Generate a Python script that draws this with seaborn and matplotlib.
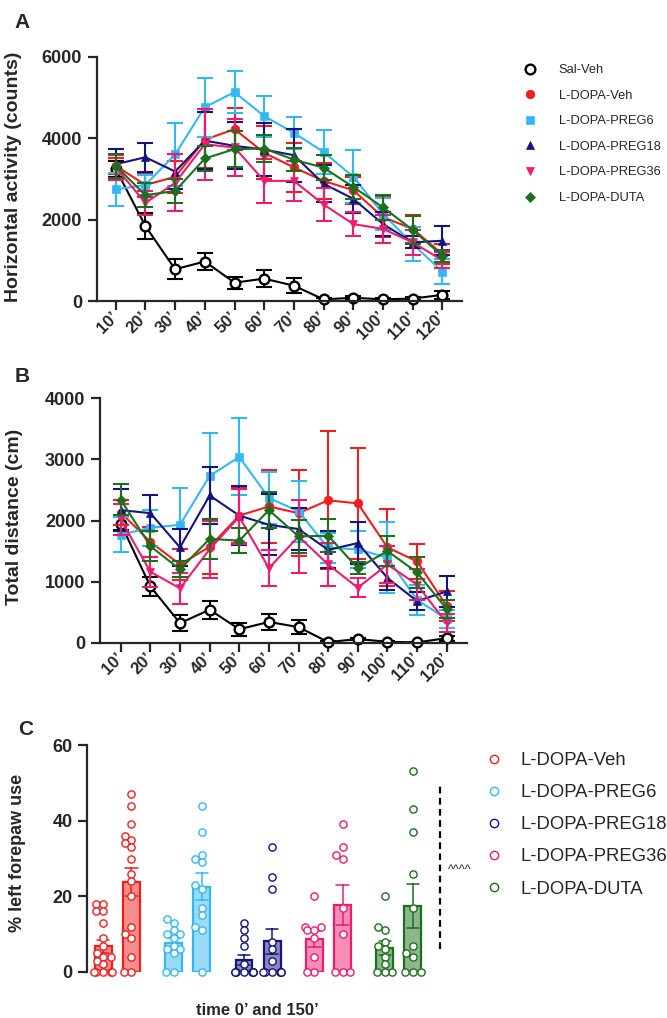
import numpy as np
import pandas as pd
import seaborn as sns
import matplotlib.pyplot as plt
import matplotlib.colors as mcolors
from matplotlib.lines import Line2D

# ---- shared ----
times = [10, 20, 30, 40, 50, 60, 70, 80, 90, 100, 110, 120]
time_labels = [f"{t}\u2019" for t in times]

groups = ["Sal-Veh", "L-DOPA-Veh", "L-DOPA-PREG6", "L-DOPA-PREG18",
          "L-DOPA-PREG36", "L-DOPA-DUTA"]
colors = ["black", "#f01e1e", "#34b8f3", "#14147e", "#ec1c6e", "#1d6f1d"]
markers = ["o", "o", "s", "^", "v", "D"]

# ---- panel A: horizontal activity (mean, sem) ----
sal_a = [3250, 1840, 780, 970, 450, 550, 375, 40, 80, 40, 60, 150]
sal_a_err = [200, 310, 250, 220, 145, 210, 190, 30, 40, 30, 40, 100]
veh_a = [3320, 2850, 3050, 3960, 4220, 3640, 3280, 2950, 2720, 2060, 1770, 1150]
veh_a_err = [200, 300, 400, 690, 520, 650, 600, 450, 330, 500, 350, 250]
preg6_a = [2740, 2850, 3600, 4760, 5130, 4540, 4130, 3660, 3050, 2140, 1400, 720]
preg6_a_err = [400, 250, 770, 720, 520, 500, 400, 550, 650, 400, 420, 300]
preg18_a = [3360, 3530, 3180, 3940, 3810, 3720, 3580, 2880, 2510, 1890, 1440, 1480]
preg18_a_err = [380, 350, 430, 700, 580, 650, 650, 450, 350, 300, 150, 350]
preg36_a = [3280, 2410, 2900, 3850, 3770, 2950, 2950, 2370, 1890, 1770, 1440, 1000]
preg36_a_err = [300, 300, 700, 870, 700, 540, 500, 400, 300, 350, 300, 200]
duta_a = [3320, 2600, 2700, 3500, 3730, 3745, 3470, 3275, 2800, 2300, 1745, 1110]
duta_a_err = [300, 300, 300, 300, 450, 330, 280, 300, 300, 300, 350, 150]

# ---- panel B: total distance (mean, sem) ----
sal_b = [1950, 920, 320, 540, 220, 340, 255, 10, 60, 15, 5, 75]
sal_b_err = [100, 150, 130, 150, 110, 130, 120, 10, 20, 10, 10, 40]
veh_b = [2130, 1650, 1280, 1570, 2080, 2230, 2120, 2330, 2280, 1560, 1330, 600]
veh_b_err = [200, 250, 250, 450, 450, 600, 700, 1130, 910, 630, 290, 250]
preg6_b = [1770, 1880, 1930, 2730, 3040, 2370, 2150, 1550, 1530, 1390, 700, 390]
preg6_b_err = [280, 300, 600, 700, 630, 430, 500, 250, 300, 580, 250, 150]
preg18_b = [2170, 2120, 1560, 2410, 2080, 1930, 1860, 1520, 1630, 1060, 680, 840]
preg18_b_err = [350, 290, 300, 460, 480, 500, 350, 300, 350, 200, 150, 250]
preg36_b = [2020, 1160, 890, 1530, 2060, 1220, 1740, 1280, 900, 1280, 950, 320]
preg36_b_err = [250, 250, 250, 470, 450, 300, 600, 350, 160, 300, 250, 150]
duta_b = [2340, 1580, 1200, 1700, 1670, 2170, 1740, 1750, 1220, 1500, 1150, 550]
duta_b_err = [250, 250, 130, 330, 200, 300, 270, 270, 100, 250, 250, 150]

# ---- panel C: % left forepaw use, individual animals ----
c_groups = groups[1:]
c_colors = colors[1:]
veh_0 = [18, 18, 16, 16, 13, 9, 7, 5, 4, 4, 3, 2, 0, 0, 0, 0, 0]
veh_150 = [47, 44, 39, 36, 35, 34, 33, 30, 26, 24, 20, 12, 10, 9, 4, 0, 0]
preg6_0 = [14, 13, 11, 10, 10, 9, 7, 6, 6, 5, 0, 0]
preg6_150 = [44, 37, 31, 30, 29, 23, 22, 17, 15, 12, 11, 0]
preg18_0 = [13, 11, 9, 7, 2, 0, 0, 0, 0, 0, 0, 0, 0]
preg18_150 = [33, 25, 22, 8, 6, 3, 0, 0, 0, 0, 0, 0]
preg36_0 = [20, 12, 12, 11, 11, 9, 4, 0, 0]
preg36_150 = [39, 33, 31, 30, 17, 10, 0, 0, 0]
duta_0 = [20, 12, 11, 8, 7, 6, 4, 2, 0, 0, 0]
duta_150 = [53, 43, 37, 26, 17, 7, 5, 4, 0, 0, 0]

sns.set_style("ticks")
plt.rcParams["font.family"] = ["Liberation Sans", "DejaVu Sans"]
plt.rcParams.update({
    "axes.linewidth": 1.6,
    "xtick.major.width": 1.6, "ytick.major.width": 1.6,
    "xtick.major.size": 6.5, "ytick.major.size": 6.5,
    "xtick.major.pad": 3, "ytick.major.pad": 4,
})

W, H = 667, 1018
fig = plt.figure(figsize=(W / 100, H / 100), dpi=100)


def ax_px(left, right, top, bottom):
    return fig.add_axes([left / W, 1 - bottom / H, (right - left) / W, (bottom - top) / H])


def line_panel(ax, means, errs, ymax, yticks, ylabel, xlim):
    for g, c, m, y, e in zip(groups, colors, markers, means, errs):
        hollow = g == "Sal-Veh"
        ax.errorbar(times, y, yerr=e, fmt="none", ecolor=c, elinewidth=1.5,
                    capsize=6, capthick=1.5)
        sns.lineplot(x=times, y=y, ax=ax, color=c, marker=m, errorbar=None,
                     linewidth=1.5,
                     markersize=7 if hollow else (5 if m == "D" else 6.2),
                     markerfacecolor="white" if hollow else c,
                     markeredgecolor=c,
                     markeredgewidth=1.7 if hollow else 0.5, clip_on=False)
    ax.set_xlim(*xlim)
    ax.set_ylim(0, ymax)
    ax.set_yticks(yticks)
    ax.set_xticks(times, time_labels)
    for lab in ax.get_xticklabels():
        lab.set_rotation(45)
        lab.set_ha("right")
        lab.set_va("center")
        lab.set_rotation_mode("anchor")
        lab.set_fontsize(12)
        lab.set_fontweight("bold")
    for lab in ax.get_yticklabels():
        lab.set_fontsize(13)
        lab.set_fontweight("bold")
    ax.set_xlabel("")
    ax.set_ylabel(ylabel, fontsize=14, fontweight="bold")
    sns.despine(ax=ax)


# Panel A
axA = ax_px(96.7, 462, 56.7, 301)
line_panel(axA, [sal_a, veh_a, preg6_a, preg18_a, preg36_a, duta_a],
           [sal_a_err, veh_a_err, preg6_a_err, preg18_a_err, preg36_a_err, duta_a_err],
           6000, [0, 2000, 4000, 6000], "Horizontal activity (counts)", (3.6, 126.6))
axA.yaxis.set_label_coords(-0.205, 0.51)

# Panel B
axB = ax_px(100, 467, 398.3, 642.7)
line_panel(axB, [sal_b, veh_b, preg6_b, preg18_b, preg36_b, duta_b],
           [sal_b_err, veh_b_err, preg6_b_err, preg18_b_err, preg36_b_err, duta_b_err],
           4000, [0, 1000, 2000, 3000, 4000], "Total distance (cm)", (3.0, 126.85))
axB.yaxis.set_label_coords(-0.21, 0.514)

# legend for A/B
handles = []
for g, c, m in zip(groups, colors, markers):
    hollow = g == "Sal-Veh"
    handles.append(Line2D([], [], linestyle="none", marker=m, color=c,
                          markersize=7 if hollow else (5 if m == "D" else 6.2),
                          markerfacecolor="white" if hollow else c,
                          markeredgecolor=c, markeredgewidth=1.7 if hollow else 0.5))
fig.legend(handles, groups, loc="upper left", bbox_to_anchor=(524 / W, 1 - 64 / H),
           frameon=False, fontsize=9.3, handlelength=1.0, handletextpad=1.7,
           labelspacing=1.05, borderpad=0, borderaxespad=0)

# Panel C
c_vals = [(veh_0, veh_150), (preg6_0, preg6_150), (preg18_0, preg18_150),
          (preg36_0, preg36_150), (duta_0, duta_150)]
rows = []
for g, (v0, v150) in zip(c_groups, c_vals):
    rows += [(g, "0", v) for v in v0]
    rows += [(g, "150", v) for v in v150]
dfc = pd.DataFrame(rows, columns=["group", "time", "value"])

axC = ax_px(87, 427, 745, 972)
sns.barplot(data=dfc, x="group", y="value", hue="time", order=c_groups,
            hue_order=["0", "150"], errorbar="se", capsize=0.35, width=0.8,
            gap=0.4, err_kws={"linewidth": 1.1}, legend=False, ax=axC)
sns.swarmplot(data=dfc, x="group", y="value", hue="time", order=c_groups,
              hue_order=["0", "150"], dodge=True, size=5.2, legend=False,
              warn_thresh=1, ax=axC)

axC.set_xlim(-0.43, 4.40)
axC.set_ylim(0, 60)
axC.set_yticks([0, 20, 40, 60])
axC.set_xticks([])

for p in axC.patches:
    gi = int(round(p.get_x() + p.get_width() / 2))
    c = c_colors[gi]
    p.set_facecolor(mcolors.to_rgba(c, 0.5))
    p.set_edgecolor(c)
    p.set_linewidth(1.6)
for ln in axC.lines:
    xd = np.asarray(ln.get_xdata(), dtype=float)
    gi = int(round(np.nanmean(xd)))
    ln.set_color(c_colors[gi])

# the swarm layout is computed at draw time: draw once, then freeze it
fig.canvas.draw()
for coll in axC.collections:
    offs = np.asarray(coll.get_offsets(), dtype=float)
    if len(offs) == 0:
        continue
    if "draw" in coll.__dict__:
        del coll.draw
    mx = np.mean(offs[:, 0])
    gi = int(round(mx))
    # keep the swarm tight around its bar (points overlap like in the original)
    centre = gi - 0.2 if mx < gi else gi + 0.2
    offs[:, 0] = np.clip(offs[:, 0], centre - 0.13, centre + 0.13)
    coll.set_offsets(offs)
    coll.set_facecolor("white")
    coll.set_edgecolor(c_colors[gi])
    coll.set_linewidth(1.0)
    coll.set_zorder(3)
    coll.set_clip_on(False)

for lab in axC.get_yticklabels():
    lab.set_fontsize(13)
    lab.set_fontweight("bold")
axC.set_ylabel("% left forepaw use", fontsize=13, fontweight="bold")
axC.yaxis.set_label_coords(-0.178, 0.526)
axC.set_xlabel("time 0\u2019 and 150\u2019", fontsize=12, fontweight="bold")
axC.xaxis.set_label_coords(0.5, -0.135)
sns.despine(ax=axC, bottom=True)

# significance bracket
axC.plot([4.59, 4.59], [6, 50], color="black", linestyle=(0, (3, 2)), linewidth=1.6,
         clip_on=False)
axC.text(4.86, 27, "^^^^", fontsize=9, ha="center", va="center")

handles_c = [Line2D([], [], linestyle="none", marker="o", markersize=6,
                    markerfacecolor="white", markeredgecolor=c, markeredgewidth=1.0)
             for c in c_colors]
fig.legend(handles_c, c_groups, loc="upper left", bbox_to_anchor=(487 / W, 1 - 752 / H),
           frameon=False, fontsize=13.3, handlelength=0.8, handletextpad=1.0,
           labelspacing=0.82, borderpad=0, borderaxespad=0)

# panel letters
for letter, (x, y) in zip("ABC", [(22, 22), (22, 377), (25.5, 729.5)]):
    fig.text(x / W, 1 - y / H, letter, fontsize=15, fontweight="bold",
             ha="center", va="center")

fig.savefig("out.png", dpi=100)
